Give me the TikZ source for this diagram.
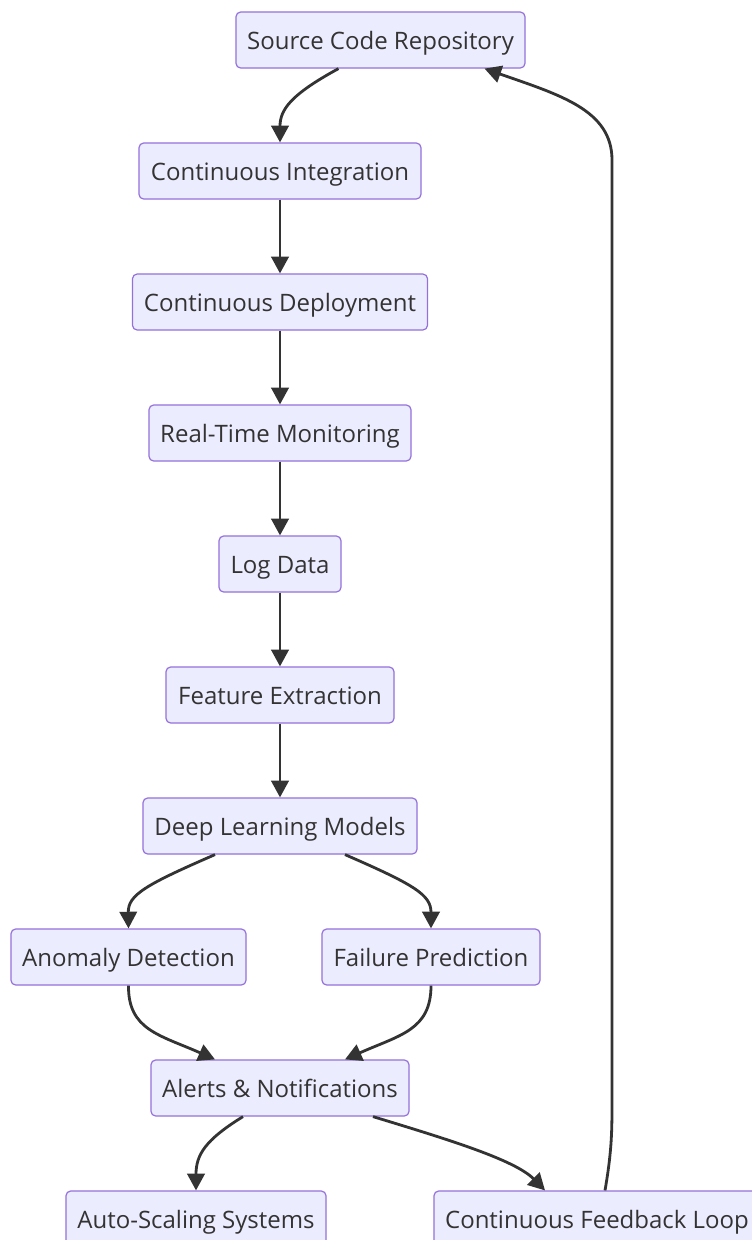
\documentclass[tikz,border=0pt]{standalone}
\usepackage{fontspec}
\setmainfont{Open Sans}
\usetikzlibrary{arrows.meta}
\definecolor{nodefill}{HTML}{ECECFF}
\definecolor{nodeline}{HTML}{9370DB}
\definecolor{txt}{HTML}{333333}
\definecolor{edge}{HTML}{333333}
\begin{document}
\begin{tikzpicture}[x=0.75pt,y=-0.75pt,
  box/.style={draw=nodeline,fill=nodefill,line width=0.9pt,rounded corners=3.5pt,
    text=txt,font=\fontsize{18pt}{22pt}\selectfont,minimum height=42pt,inner sep=0pt,
    text height=16.5pt,text depth=2pt,anchor=center},
  link/.style={draw=edge,line width=2.1pt,-{Triangle[length=12.5pt,width=13pt]}}]
\useasboundingbox (0,0) rectangle (752,1240);
\fill[white] (0,0) rectangle (752,1240);
\node[box,minimum width=216.75pt] (scr) at (380.5,40) {Source Code Repository};
\node[box,minimum width=211.5pt] (ci) at (280,171) {Continuous Integration};
\node[box,minimum width=221.25pt] (cd) at (280,302) {Continuous Deployment};
\node[box,minimum width=196.5pt] (rtm) at (280,433) {Real-Time Monitoring};
\node[box,minimum width=91.5pt] (log) at (280,564) {Log Data};
\node[box,minimum width=171pt] (fe) at (280,695) {Feature Extraction};
\node[box,minimum width=205.5pt] (dlm) at (280,826) {Deep Learning Models};
\node[box,minimum width=176.25pt] (ad) at (128.5,957) {Anomaly Detection};
\node[box,minimum width=163.5pt] (fp) at (431,957) {Failure Prediction};
\node[box,minimum width=193.5pt] (an) at (280,1088) {Alerts \& Notifications};
\node[box,minimum width=195pt] (as) at (196,1219) {Auto-Scaling Systems};
\node[box,minimum width=244.5pt] (cfl) at (597,1219) {Continuous Feedback Loop};
% edges
\draw[link] ([xshift=-31.5pt]scr.south) .. controls (290,95) and (280,110) .. (ci.north);
\draw[link] (ci) -- (cd);
\draw[link] (cd) -- (rtm);
\draw[link] (rtm) -- (log);
\draw[link] (log) -- (fe);
\draw[link] (fe) -- (dlm);
\draw[link] ([xshift=-48.75pt]dlm.south) .. controls (145,885) and (128,895) .. (ad.north);
\draw[link] ([xshift=48.75pt]dlm.south) .. controls (415,885) and (431,895) .. (fp.north);
\draw[link] (ad.south) .. controls (128,1030) and (160,1035) .. ([xshift=-48.75pt]an.north);
\draw[link] (fp.south) .. controls (431,1030) and (400,1035) .. ([xshift=48.75pt]an.north);
\draw[link] ([xshift=-27.75pt]an.south) .. controls (205,1140) and (196,1155) .. (as.north);
\draw[link] ([xshift=69.75pt]an.south) .. controls (450,1140) and (515,1160) .. ([xshift=-39pt]cfl.north);
\draw[link] ([xshift=6pt]cfl.north) .. controls (612,1150) and (612,1130) .. (612,1100)
  -- (612,160) .. controls (612,110) and (560,95) .. ([xshift=78pt]scr.south);
\end{tikzpicture}
\end{document}
